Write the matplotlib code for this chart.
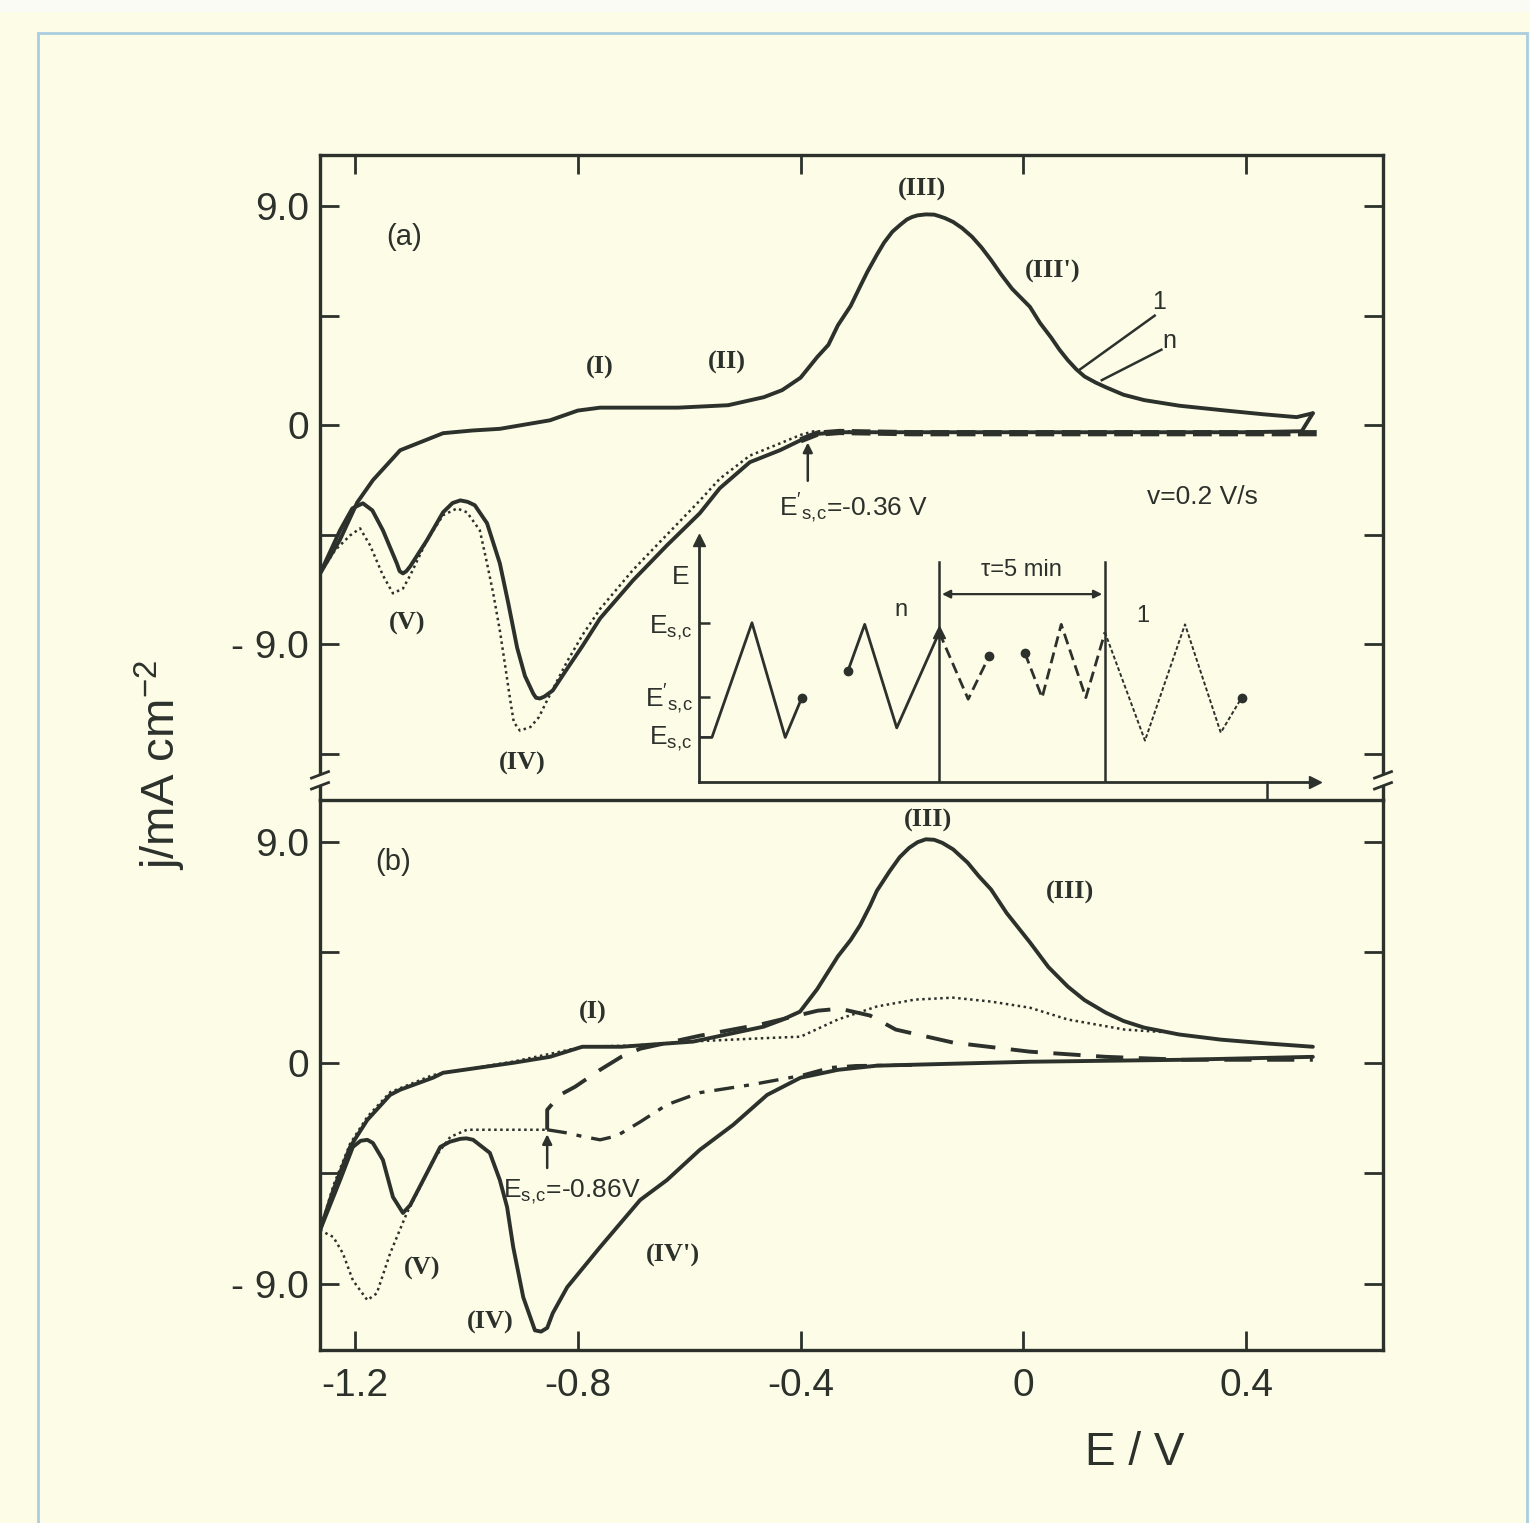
import numpy as np
import matplotlib
matplotlib.use('Agg')
import matplotlib.pyplot as plt
from matplotlib.patches import Rectangle

plt.rcParams['font.family'] = ['Liberation Sans', 'DejaVu Sans']
plt.rcParams['mathtext.fontset'] = 'custom'
plt.rcParams['mathtext.rm'] = 'Liberation Sans'
plt.rcParams['mathtext.it'] = 'Liberation Sans:italic'

ink = '#2c312c'
paper = '#fdfce7'

# ---------------- panel (a) ----------------
a_ox_E = [-1.263, -1.227, -1.196, -1.168, -1.119, -1.042, -0.99, -0.94, -0.85, -0.80, -0.76, -0.70,
          -0.62, -0.53, -0.466, -0.433, -0.40, -0.37, -0.35, -0.333, -0.31, -0.293, -0.28, -0.263,
          -0.25, -0.235, -0.22, -0.209, -0.20, -0.19, -0.175, -0.16, -0.15, -0.14, -0.126, -0.11,
          -0.092, -0.075, -0.058, -0.04, -0.02, 0.012, 0.03, 0.05, 0.065, 0.08, 0.095, 0.11, 0.13,
          0.148, 0.18, 0.217, 0.28, 0.355, 0.43, 0.491, 0.52]
a_ox_j = [-6.1, -4.7, -3.17, -2.26, -1.03, -0.33, -0.22, -0.15, 0.2, 0.6, 0.72, 0.72,
          0.72, 0.82, 1.15, 1.44, 1.95, 2.8, 3.3, 4.1, 4.9, 5.7, 6.3, 7.0,
          7.5, 7.95, 8.25, 8.45, 8.55, 8.62, 8.66, 8.65, 8.58, 8.5, 8.35, 8.1,
          7.74, 7.3, 6.79, 6.2, 5.6, 4.86, 4.2, 3.6, 3.1, 2.67, 2.3, 2.0, 1.75,
          1.56, 1.25, 1.03, 0.8, 0.62, 0.45, 0.33, 0.49]

a_red_E = [0.52, 0.50, 0.40, 0.20, 0.0, -0.2, -0.33, -0.376, -0.40, -0.437, -0.491, -0.545, -0.581,
           -0.640, -0.701, -0.760, -0.791, -0.819, -0.845, -0.860, -0.868, -0.875, -0.880, -0.895,
           -0.909, -0.925, -0.940, -0.963, -0.985, -0.998, -1.011, -1.025, -1.042, -1.071, -1.101,
           -1.108, -1.114, -1.120, -1.125, -1.150, -1.169, -1.186, -1.205, -1.227, -1.263]
a_red_j = [0.49, -0.25, -0.29, -0.29, -0.29, -0.29, -0.29, -0.37, -0.62, -1.03, -1.52, -2.59, -3.62,
           -4.94, -6.38, -7.94, -9.05, -10.0, -10.9, -11.15, -11.23, -11.2, -11.03, -10.3,
           -9.14, -7.3, -5.68, -4.03, -3.29, -3.15, -3.09, -3.2, -3.58, -4.73, -5.80,
           -6.0, -6.09, -6.0, -5.68, -4.32, -3.50, -3.21, -3.42, -4.32, -6.1]

# cycle n (dotted)
a_n_E = [-0.30, -0.376, -0.40, -0.437, -0.491, -0.545, -0.581, -0.640, -0.701, -0.760, -0.791, -0.819,
         -0.845, -0.855, -0.870, -0.885, -0.904, -0.915, -0.922, -0.931, -0.940, -0.952, -0.963, -0.976,
         -0.999, -1.017, -1.042, -1.071, -1.101, -1.114, -1.132, -1.150, -1.173, -1.191, -1.209,
         -1.236, -1.263]
a_n_j = [-0.25, -0.25, -0.40, -0.75, -1.25, -2.2, -3.1, -4.5, -5.95, -7.55, -8.6, -9.7,
         -10.85, -11.3, -12.0, -12.4, -12.55, -12.2, -11.2, -9.8, -8.44, -6.9, -5.68, -4.32,
         -3.58, -3.42, -3.70, -4.73, -6.17, -6.71, -6.91, -6.17, -4.94, -4.24, -4.53,
         -5.14, -6.1]

# thick dashed return near zero
a_dash_E = [-0.40, -0.37, -0.33, -0.2, 0.0, 0.2, 0.4, 0.53]
a_dash_j = [-0.62, -0.35, -0.28, -0.33, -0.33, -0.33, -0.33, -0.33]

# ---------------- panel (b) ----------------
b_ox_E = [-1.263, -1.239, -1.209, -1.178, -1.137, -1.119, -1.060, -1.042, -0.915, -0.850, -0.792,
          -0.722, -0.593, -0.466, -0.433, -0.401, -0.37, -0.333, -0.31, -0.293, -0.275, -0.263,
          -0.24, -0.222, -0.205, -0.19, -0.175, -0.16, -0.145, -0.126, -0.10, -0.08, -0.058, -0.03,
          0.012, 0.045, 0.080, 0.11, 0.148, 0.18, 0.217, 0.28, 0.355, 0.44, 0.520]
b_ox_j = [-6.82, -5.18, -3.43, -2.33, -1.31, -1.10, -0.61, -0.41, 0.0, 0.24, 0.65,
          0.65, 0.86, 1.47, 1.75, 2.08, 3.0, 4.33, 5.0, 5.6, 6.4, 7.0,
          7.8, 8.37, 8.75, 8.98, 9.10, 9.08, 8.95, 8.69, 8.15, 7.6, 7.06, 6.1,
          4.90, 3.9, 3.10, 2.55, 2.04, 1.7, 1.43, 1.15, 0.94, 0.78, 0.65]

b_red_E = [0.52, 0.287, 0.012, -0.263, -0.333, -0.40, -0.46, -0.521, -0.581, -0.640, -0.688, -0.760,
           -0.819, -0.845, -0.855, -0.866, -0.877, -0.898, -0.916, -0.927, -0.940, -0.958, -0.988,
           -1.000, -1.011, -1.030, -1.047, -1.071, -1.101, -1.114, -1.132, -1.150, -1.168, -1.178,
           -1.19, -1.204, -1.227, -1.263]
b_red_j = [0.24, 0.12, 0.04, -0.12, -0.29, -0.61, -1.31, -2.53, -3.55, -4.78, -5.59, -7.51,
           -9.14, -10.2, -10.8, -10.95, -10.9, -9.55, -7.51, -5.88, -4.78, -3.67, -3.14,
           -3.08, -3.10, -3.22, -3.43, -4.49, -5.80, -6.12, -5.47, -3.96, -3.27, -3.14,
           -3.18, -3.43, -4.78, -6.82]

# cathodic sweep stopped at E_sc = -0.86 V (dash-dot) and its return (dashed)
b_dd_E = [-0.20, -0.30, -0.347, -0.40, -0.49, -0.581, -0.640, -0.688, -0.730, -0.760, -0.796, -0.819, -0.855]
b_dd_j = [-0.10, -0.12, -0.2, -0.53, -0.9, -1.22, -1.71, -2.41, -2.98, -3.14, -2.98, -2.86, -2.73]

b_dash_E = [-0.855, -0.855, -0.832, -0.805, -0.760, -0.722, -0.688, -0.581, -0.466, -0.369, -0.329,
            -0.275, -0.229, -0.126, 0.012, 0.148, 0.287, 0.52]
b_dash_j = [-2.73, -1.92, -1.31, -0.98, -0.29, 0.24, 0.57, 1.10, 1.59, 2.12, 2.20,
            1.92, 1.35, 0.82, 0.45, 0.24, 0.12, 0.12]

# dotted curve
b_dot1_E = [-1.263, -1.239, -1.222, -1.204, -1.178, -1.161, -1.137, -1.107, -1.083, -1.060, -1.029,
            -0.999, -0.940, -0.855]
b_dot1_j = [-6.82, -7.10, -7.76, -8.86, -9.67, -9.39, -7.76, -6.12, -5.06, -3.96, -3.02,
            -2.73, -2.73, -2.73]
b_dot2_E = [-1.263, -1.239, -1.209, -1.178, -1.137, -1.06, -0.915, -0.79, -0.70, -0.60, -0.466, -0.40,
            -0.333, -0.263, -0.195, -0.126, -0.058, 0.012, 0.080, 0.182, 0.25]
b_dot2_j = [-6.82, -5.0, -3.3, -2.2, -1.2, -0.5, 0.05, 0.65, 0.70, 0.86, 1.0, 1.06,
            1.76, 2.29, 2.57, 2.65, 2.49, 2.24, 1.76, 1.35, 1.25]

# ---------------- inset: potential programme ----------------
w1_t = [0, 2.1, 8.6, 14.0, 16.7]
w1_E = [0.28, 0.28, 1.0, 0.28, 0.53]
w2_t = [24.2, 26.9, 32.1, 39.0]
w2_E = [0.70, 0.99, 0.34, 0.94]
w3_t = [39.0, 43.7, 47.1]
w3_E = [0.94, 0.52, 0.79]
w4_t = [52.9, 55.7, 58.8, 62.8, 65.9]
w4_E = [0.81, 0.53, 0.99, 0.53, 0.94]
w5_t = [65.9, 72.4, 78.9, 84.7, 88.1]
w5_E = [0.94, 0.26, 0.99, 0.31, 0.53]
tau_t = [39.0, 65.9]

yt = [-13.5, -9, -4.5, 0, 4.5, 9]
ytl = ['', '- 9.0', '', '0', '', '9.0']
xt = [-1.2, -0.8, -0.4, 0, 0.4]
xtl = ['-1.2', '-0.8', '-0.4', '0', '0.4']

fig = plt.figure(figsize=(15.3, 15.23), dpi=100, facecolor=paper)
fig.patches.append(Rectangle((0, 1 - 12 / 1523), 1, 12 / 1523, transform=fig.transFigure,
                             facecolor='#fbfbf6', edgecolor='none', zorder=0))
fig.patches.append(Rectangle((38 / 1530, -0.01), (1527 - 38) / 1530, 1 - 33 / 1523 + 0.01,
                             transform=fig.transFigure, fill=False, edgecolor='#aacde0',
                             lw=2, zorder=1))

L, W = 320 / 1530, (1383 - 320) / 1530
ax_a = fig.add_axes([L, 1 - 800 / 1523, W, 645 / 1523])
ax_b = fig.add_axes([L, 1 - 1350 / 1523, W, 550 / 1523])

for ax in (ax_a, ax_b):
    ax.set_facecolor('none')
    ax.set_xlim(-1.263, 0.646)
    for s in ax.spines.values():
        s.set_linewidth(2.4)
        s.set_color(ink)
    ax.tick_params(direction='in', length=14, width=2, colors=ink, labelsize=28,
                   top=True, right=True, pad=8)
    ax.set_xticks(xt)
    ax.set_yticks(yt)
    ax.set_yticklabels(ytl)

ax_a.set_ylim(-15.4, 11.1)
ax_b.set_ylim(-11.7, 10.7)
ax_a.spines['bottom'].set_visible(False)
ax_a.tick_params(bottom=False, labelbottom=False)
ax_b.tick_params(top=False)
ax_b.tick_params(axis='x', pad=13)
ax_b.set_xticklabels(xtl)

solid = dict(color=ink, lw=2.8, solid_capstyle='round', solid_joinstyle='round')
dotted = dict(color=ink, lw=1.8, ls=(0, (1, 1.4)))

# panel (a) curves
ax_a.plot(a_ox_E, a_ox_j, **solid)
ax_a.plot(a_red_E, a_red_j, **solid)
ax_a.plot(a_n_E, a_n_j, **dotted)
ax_a.plot(a_dash_E, a_dash_j, color=ink, lw=4.5, ls=(0, (3, 1.2)))

# panel (b) curves
ax_b.plot(b_ox_E, b_ox_j, **solid)
ax_b.plot(b_red_E, b_red_j, **solid)
ax_b.plot(b_dd_E, b_dd_j, color=ink, lw=2.4, ls=(0, (6, 3, 1.5, 3)))
ax_b.plot(b_dash_E, b_dash_j, color=ink, lw=2.8, ls=(0, (7, 4)))
ax_b.plot(b_dot1_E, b_dot1_j, **dotted)
ax_b.plot(b_dot2_E, b_dot2_j, **dotted)

# labels
roman = dict(fontsize=19, fontweight='bold', family=['Liberation Serif', 'DejaVu Serif'],
             color=ink, ha='center', va='center')
ax_a.text(-1.112, 7.74, '(a)', fontsize=21, color=ink, ha='center', va='center')
ax_a.text(-0.760, 2.39, '(I)', **roman)
ax_a.text(-0.532, 2.59, '(II)', **roman)
ax_a.text(-0.182, 9.67, '(III)', **roman)
ax_a.text(0.053, 6.30, "(III')", **roman)
ax_a.text(-1.107, -8.15, '(V)', **roman)
ax_a.text(-0.900, -13.9, '(IV)', **roman)

ax_a.plot([0.10, 0.236], [2.26, 4.5], color=ink, lw=1.8)
ax_a.plot([0.141, 0.248], [1.85, 3.1], color=ink, lw=1.8)
ax_a.text(0.244, 5.05, '1', fontsize=18, color=ink, ha='center', va='center')
ax_a.text(0.262, 3.45, 'n', fontsize=18, color=ink, ha='center', va='center')

ax_a.annotate('', xy=(-0.387, -0.6), xytext=(-0.387, -2.4),
              arrowprops=dict(arrowstyle='-|>', color=ink, lw=1.8, mutation_scale=14))
ax_a.text(-0.439, -3.42, r"$\mathrm{E'_{s,\!c}}$=-0.36 V", fontsize=19, color=ink,
          ha='left', va='center')
ax_a.text(0.222, -2.96, 'v=0.2 V/s', fontsize=19, color=ink, ha='left', va='center')

ax_b.text(-1.132, 8.16, '(b)', fontsize=21, color=ink, ha='center', va='center')
ax_b.text(-0.773, 2.04, '(I)', **roman)
ax_b.text(-0.171, 9.85, '(III)', **roman)
ax_b.text(0.084, 6.94, '(III)', **roman)
ax_b.text(-1.080, -8.37, '(V)', **roman)
ax_b.text(-0.958, -10.57, '(IV)', **roman)
ax_b.text(-0.629, -7.84, "(IV')", **roman)
ax_b.annotate('', xy=(-0.855, -2.8), xytext=(-0.855, -4.4),
              arrowprops=dict(arrowstyle='-|>', color=ink, lw=1.8, mutation_scale=14))
ax_b.text(-0.934, -5.27, r"$\mathrm{E_{s,\!c}}$=-0.86V", fontsize=19, color=ink,
          ha='left', va='center')

# axis titles
fig.text(160 / 1530, 1 - 765 / 1523, r'j/mA cm$^{-2}$', rotation=90, fontsize=34,
         color=ink, ha='center', va='center')
fig.text(1135 / 1530, 1 - 1453 / 1523, 'E / V', fontsize=33, color=ink, ha='center', va='center')

# axis break marks on the panel (a) spines
for xs in (0, 1):
    ax_a.add_patch(Rectangle((xs - 0.006, 0.022), 0.012, 0.017, transform=ax_a.transAxes,
                             facecolor=paper, edgecolor='none', clip_on=False, zorder=5))
    for yb in (0.022, 0.039):
        ax_a.plot([xs - 0.008, xs + 0.008], [yb - 0.005, yb + 0.005], transform=ax_a.transAxes,
                  color=ink, lw=2, clip_on=False, zorder=6)

# inset
ax_in = fig.add_axes([699 / 1530, 1 - 782 / 1523, 616 / 1530, 242 / 1523])
ax_in.set_facecolor('none')
ax_in.set_xlim(0, 100)
ax_in.set_ylim(0, 1.52)
for k in ('top', 'right'):
    ax_in.spines[k].set_visible(False)
for k in ('left', 'bottom'):
    ax_in.spines[k].set_linewidth(2)
    ax_in.spines[k].set_color(ink)
ax_in.set_xticks([])
ax_in.set_yticks([0.535, 1.0])
ax_in.set_yticklabels([])
ax_in.tick_params(axis='y', direction='in', length=8, width=1.8, colors=ink)
ax_in.plot(1, 0, '>', color=ink, ms=9, transform=ax_in.transAxes, clip_on=False)
ax_in.plot(0, 1, '^', color=ink, ms=9, transform=ax_in.transAxes, clip_on=False)

wave = dict(color=ink, lw=2)
ax_in.plot(w1_t, w1_E, **wave)
ax_in.plot(w2_t, w2_E, **wave)
ax_in.plot(w3_t, w3_E, color=ink, lw=2, ls=(0, (4, 2)))
ax_in.plot(w4_t, w4_E, color=ink, lw=2, ls=(0, (4, 2)))
ax_in.plot(w5_t, w5_E, color=ink, lw=1.4, ls=(0, (2, 1.2)))
ax_in.plot([w1_t[-1], w2_t[0], w3_t[-1], w4_t[0], w5_t[-1]],
           [w1_E[-1], w2_E[0], w3_E[-1], w4_E[0], w5_E[-1]], 'o', color=ink, ms=6)
ax_in.plot(w2_t[-1], w2_E[-1], '^', color=ink, ms=9)
for t in tau_t:
    ax_in.plot([t, t], [0, 1.38], color=ink, lw=1.8)
ax_in.annotate('', xy=(tau_t[0], 1.18), xytext=(tau_t[1], 1.18),
               arrowprops=dict(arrowstyle='<|-|>', color=ink, lw=1.6, mutation_scale=12))
ax_in.text(52.4, 1.33, 'τ=5 min', fontsize=17, color=ink, ha='center', va='center')
ax_in.text(32.8, 1.08, 'n', fontsize=17, color=ink, ha='center', va='center')
ax_in.text(72.1, 1.04, '1', fontsize=17, color=ink, ha='center', va='center')
ax_in.plot([92.2, 92.2], [0, -0.11], color=ink, lw=1.8, clip_on=False)

lab = dict(fontsize=19, color=ink, ha='right', va='center', clip_on=False)
ax_in.text(-1.5, 1.29, 'E', **lab)
ax_in.text(-1.0, 0.97, r'$\mathrm{E_{s,\!c}}$', **lab)
ax_in.text(-1.0, 0.52, r"$\mathrm{E'_{s,\!c}}$", **lab)
ax_in.text(-1.0, 0.27, r'$\mathrm{E_{s,\!c}}$', **lab)

fig.savefig('out.png', dpi=100, facecolor=paper)
